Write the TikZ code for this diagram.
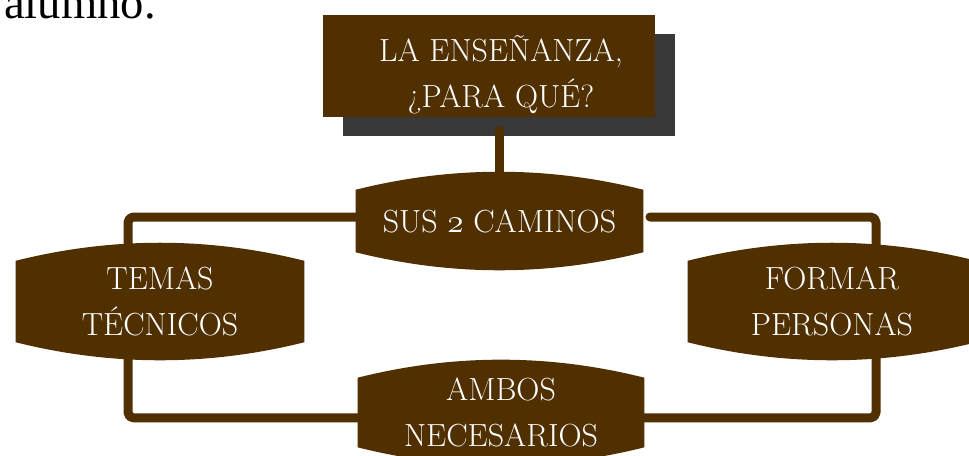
\documentclass[tikz,border=0pt]{standalone}
\usepackage{fontspec}
\newfontfamily\alumnofont{Liberation Serif}
\usetikzlibrary{calc,backgrounds}
\definecolor{brownc}{RGB}{80,48,0}
\definecolor{shadowc}{RGB}{56,56,56}
\newcommand\boxfont{\fontsize{24pt}{34.5pt}\selectfont}
\newcommand\oldtwo{{\usefont{OML}{cmm}{m}{it}2}}
\newcommand\wavyfill[1]{%
  \fill[brownc] (#1.south west) -- (#1.north west)
    .. controls ($(#1.north west)!0.667!(#1.north)+(0,-24)$) and ($(#1.north east)!0.667!(#1.north)+(0,-24)$) .. (#1.north east)
    -- (#1.south east)
    .. controls ($(#1.south east)!0.667!(#1.south)+(0,24)$) and ($(#1.south west)!0.667!(#1.south)+(0,24)$) .. (#1.south west) -- cycle;}
\tikzset{
  shapebox/.style={inner sep=0pt, align=center, text=white, font=\boxfont},
  link/.style={draw=brownc, line width=6.75pt, line cap=round, line join=round, rounded corners=4pt},
}
\begin{document}
\begin{tikzpicture}[x=0.75pt,y=-0.75pt]
\useasboundingbox (0,0) rectangle (969,455);
% stray text
\node[anchor=base west, inner sep=0pt, font=\alumnofont\fontsize{35pt}{40pt}\selectfont] (alumno) at (4,18) {alumno.};
% title
\node[fill=brownc, inner sep=0pt, minimum width=249pt, minimum height=76.5pt] (title) at (489,66) {};
\node[shapebox] (titletxt) at (501,75) {LA ENSEÑANZA,\\¿PARA QUÉ?};
% wavy boxes
\node[shapebox, minimum width=215.25pt, minimum height=46.5pt] (sus) at (499.5,221) {SUS \oldtwo{} CAMINOS};
\node[shapebox, minimum width=216pt, minimum height=60.75pt] (temas) at (160,301.5) {TEMAS\\TÉCNICOS};
\node[shapebox, minimum width=216pt, minimum height=60.75pt] (formar) at (832,301.5) {FORMAR\\PERSONAS};
\node[shapebox, minimum width=214.5pt, minimum height=45.75pt] (ambos) at (501,412.5) {AMBOS\\NECESARIOS};
\begin{pgfonlayer}{background}
  \fill[shadowc] ([xshift=15pt,yshift=-14.25pt]title.north west) rectangle ([xshift=15pt,yshift=-14.25pt]title.south east);
  \draw[link, shorten <=10pt] ([xshift=7.5pt]title.south) -- ([xshift=7.5pt]title.south |- sus.north);
  \draw[link] ([yshift=3pt]sus.west) -| ([xshift=-24pt]temas.north);
  \draw[link, shorten <=5pt] ([yshift=3pt]sus.east) -| ([xshift=33pt]formar.north);
  \draw[link] ([xshift=-24pt]temas.south) |- ([yshift=-4pt]ambos.west);
  \draw[link] ([yshift=-4pt]ambos.east) -| ([xshift=33pt]formar.south);
  \wavyfill{sus}
  \wavyfill{temas}
  \wavyfill{formar}
  \wavyfill{ambos}
\end{pgfonlayer}
\end{tikzpicture}
\end{document}
